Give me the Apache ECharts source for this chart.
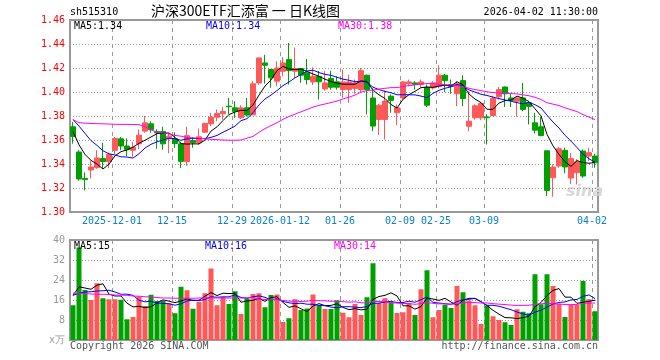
<!DOCTYPE html>
<html><head><meta charset="utf-8">
<script src="https://cdn.jsdelivr.net/npm/echarts@6/dist/echarts.min.js"></script>
<style>html,body{margin:0;padding:0;background:#fff}#c{width:660px;height:360px}</style>
</head><body><div id="c"></div>
<script>
const dates = [
'2025-11-20','2025-11-21','2025-11-24','2025-11-25','2025-11-26','2025-11-27','2025-11-28',
'2025-12-01','2025-12-02','2025-12-03','2025-12-04','2025-12-05',
'2025-12-08','2025-12-09','2025-12-10','2025-12-11','2025-12-12',
'2025-12-15','2025-12-16','2025-12-17','2025-12-18','2025-12-19',
'2025-12-22','2025-12-23','2025-12-24','2025-12-25','2025-12-26',
'2025-12-29','2025-12-30','2025-12-31',
'2026-01-05','2026-01-06','2026-01-07','2026-01-08','2026-01-09',
'2026-01-12','2026-01-13','2026-01-14','2026-01-15','2026-01-16',
'2026-01-19','2026-01-20','2026-01-21','2026-01-22','2026-01-23',
'2026-01-26','2026-01-27','2026-01-28','2026-01-29','2026-01-30',
'2026-02-02','2026-02-03','2026-02-04','2026-02-05','2026-02-06',
'2026-02-09','2026-02-10','2026-02-11','2026-02-12','2026-02-13',
'2026-02-24','2026-02-25','2026-02-26','2026-02-27',
'2026-03-02','2026-03-03','2026-03-04','2026-03-05','2026-03-06',
'2026-03-09','2026-03-10','2026-03-11','2026-03-12','2026-03-13',
'2026-03-16','2026-03-17','2026-03-18','2026-03-19','2026-03-20',
'2026-03-23','2026-03-24','2026-03-25','2026-03-26','2026-03-27',
'2026-03-30','2026-03-31','2026-04-01','2026-04-02'];

const opens = [1.371,1.350,1.328,1.335,1.337,1.3445,1.342,1.3515,1.361,1.355,
1.3515,1.3568,1.3674,1.3735,1.367,1.367,1.361,1.361,1.3568,1.342,
1.3595,1.3578,1.3665,1.3735,1.379,1.3818,1.3882,1.3868,1.3785,1.3868,
1.381,1.4076,1.4242,1.4187,1.409,1.4173,1.427,1.4173,1.4195,1.416,
1.4084,1.413,1.4026,1.4112,1.4085,1.402,1.402,1.403,1.402,1.414,
1.395,1.3771,1.3771,1.3965,1.3827,1.3951,1.4068,1.4076,1.4062,1.404,
1.4034,1.4048,1.414,1.4062,1.3985,1.4095,1.3715,1.3785,1.3785,1.3792,
1.3804,1.396,1.4042,1.395,1.3923,1.3951,1.391,1.3743,1.371,1.351,
1.3285,1.3383,1.3513,1.3283,1.3327,1.3508,1.3466,1.3466];
const closes = [1.363,1.3275,1.327,1.3375,1.345,1.342,1.348,1.3613,1.355,1.352,
1.3538,1.364,1.3743,1.3685,1.366,1.3568,1.3632,1.357,1.3422,1.3636,
1.3578,1.3627,1.3737,1.379,1.382,1.3837,1.3877,1.384,1.3868,1.3808,
1.4068,1.4284,1.4223,1.4118,1.420,1.4242,1.4178,1.4195,1.414,1.4104,
1.4131,1.4085,1.4076,1.404,1.404,1.4084,1.4084,1.4076,1.4178,1.402,
1.3716,1.389,1.3924,1.393,1.3868,1.4084,1.4084,1.4062,1.4084,1.389,
1.4076,1.414,1.4095,1.4048,1.4068,1.3946,1.3757,1.3885,1.3904,1.3786,
1.3945,1.402,1.3985,1.393,1.3951,1.3855,1.388,1.3682,1.3638,1.318,
1.3374,1.3527,1.3375,1.3445,1.3418,1.330,1.3494,1.341];
const lows = [1.357,1.326,1.318,1.328,1.336,1.336,1.3365,1.348,1.3515,1.3466,
1.346,1.3525,1.366,1.366,1.3527,1.352,1.349,1.3535,1.3367,1.3385,
1.3535,1.3563,1.3658,1.3715,1.3757,1.377,1.3812,1.3785,1.3775,1.3796,
1.3807,1.406,1.407,1.4035,1.4048,1.413,1.4062,1.4117,1.4076,1.4062,
1.4057,1.3937,1.4012,1.402,1.402,1.3951,1.391,1.3985,1.400,1.3813,
1.3674,1.3641,1.3605,1.3827,1.3724,1.3937,1.4048,1.402,1.4034,1.3874,
1.402,1.403,1.400,1.3985,1.3882,1.3882,1.3674,1.377,1.3765,1.3563,
1.380,1.3937,1.3876,1.3875,1.3793,1.384,1.373,1.3654,1.363,1.3133,
1.3127,1.3369,1.3322,1.3232,1.323,1.3285,1.3424,1.3368];
const highs = [1.375,1.3515,1.333,1.343,1.3515,1.3577,1.3495,1.3625,1.3625,1.3613,
1.3585,1.369,1.380,1.3755,1.369,1.371,1.3655,1.3665,1.3585,1.371,
1.3625,1.3696,1.3745,1.3826,1.3855,1.3876,1.395,1.3923,1.389,1.395,
1.409,1.4285,1.431,1.419,1.4256,1.429,1.4408,1.437,1.420,1.4275,
1.4206,1.4175,1.4173,1.4178,1.413,1.4187,1.4145,1.4104,1.420,1.4145,
1.403,1.3901,1.4012,1.398,1.3896,1.409,1.4104,1.409,1.4104,1.4062,
1.409,1.4223,1.415,1.4104,1.409,1.414,1.4006,1.3896,1.3915,1.3815,
1.397,1.4042,1.4045,1.3985,1.3965,1.4075,1.3915,1.3826,1.3793,1.351,
1.3397,1.3543,1.3535,1.349,1.344,1.3521,1.3535,1.3485];

const volumes = [13.9,37.0,20.0,16.0,22.7,16.7,16.3,16.3,16.1,8.3,
9.2,17.4,13.6,18.1,15.6,15.6,14.7,10.7,21.3,19.9,
12.5,15.2,18.7,28.6,13.9,17.2,14.4,19.5,10.4,16.6,
18.4,18.7,13.1,18.0,18.2,7.2,8.7,16.3,12.0,12.6,
18.2,13.6,12.4,12.4,15.9,10.9,9.1,14.4,10.0,17.1,
30.7,14.8,16.7,15.1,10.8,11.1,14.7,10.0,20.3,27.9,
9.1,12.0,14.1,12.8,21.6,19.1,15.8,13.9,6.4,13.8,
9.5,8.0,7.1,6.0,12.3,11.3,10.7,26.3,14.3,26.3,
21.6,14.4,9.2,14.1,14.1,23.6,16.3,11.5];

// moving-average values before the window is full
const ma5Head = [1.367,1.356,1.348,1.343];
const ma10Head = [1.377,1.3716,1.3655,1.3595,1.3555,1.351,1.3485,1.3475,1.346];
const ma30Head = [1.377,1.3745,1.374,1.3738,1.3736,1.3735,1.3733,1.3731,1.373,1.373,
1.3729,1.3728,1.371,1.3685,1.3665,1.366,1.365,1.3638,1.3632,1.362,
1.3618,1.3615,1.361,1.3605,1.3603,1.360,1.3598,1.3598,1.360];
const volMa5Head = [17.8,21.3,20.8,20.3];
const volMa10Head = [17.9,18.7,19.2,19.3,19.6,19.7,19.9,19.2,18.3];
const volMa30Head = [18.7,18.7,18.6,18.4,18.3,18.3,18.2,18.0,17.9,17.9,
17.6,17.5,17.3,17.2,17.0,16.8,16.8,16.7,16.7,16.7,
16.7,16.8,16.8,16.8,16.8,16.8,16.8,16.8,16.8];

const tickDates = ['2025-12-01','2025-12-15','2025-12-29','2026-01-12','2026-01-26','2026-02-09','2026-02-25','2026-03-09','2026-04-02'];
const tickLabels = ['2025-12-01','12-15','12-29','2026-01-12','01-26','02-09','02-25','03-09','04-02'];

const priceMin = 1.30, priceMax = 1.46, priceStep = 0.02;
const priceGrid = [1.32, 1.34, 1.36, 1.38, 1.40, 1.42, 1.44];
const volMin = 0, volMax = 40, volStep = 8;
const volGrid = [8, 16, 24, 32];

const legendMain = ['MA5:1.34','MA10:1.34','MA30:1.38'];
const legendVol = ['MA5:15','MA10:16','MA30:14'];

function movingAvg(src, n, head, digits) {
  return src.map(function (v, i) {
    if (i < n - 1) return head[i];
    let s = 0;
    for (let k = i - n + 1; k <= i; k++) s += src[k];
    return +(s / n).toFixed(digits);
  });
}

const RED = '#ff5858', GREEN = '#00a000';
const MONO = 'DejaVu Sans Mono';
const GRIDC = '#9a9a9a';
const tickSet = {};
tickDates.forEach(function (d, k) { tickSet[d] = tickLabels[k]; });
function isTick(idx) { return tickSet[dates[idx]] !== undefined; }

const kData = dates.map(function (d, i) { return [opens[i], closes[i], lows[i], highs[i]]; });
const volData = volumes.map(function (v, i) {
  return { value: v, itemStyle: { color: closes[i] >= opens[i] ? RED : GREEN } };
});

const chart = echarts.init(document.getElementById('c'));

function lineSeries(name, data, color, xi) {
  return { name: name, type: 'line', data: data, xAxisIndex: xi, yAxisIndex: xi,
    symbol: 'none', lineStyle: { color: color, width: 1 }, z: 5 };
}

const textEls = [
  { type: 'text', left: 70, top: 7, style: { text: 'sh515310', font: '10px "' + MONO + '"', fill: '#000' } },
  { type: 'text', left: 151, top: 4, style: { text: '沪深300ETF汇添富 一 日K线图', font: '14px "Noto Sans CJK SC"', fill: '#000' } },
  { type: 'text', right: 62, top: 7, style: { text: '2026-04-02 11:30:00', font: '10px "' + MONO + '"', fill: '#000' } },
  { type: 'text', left: 74, top: 21, z: 20, style: { text: legendMain[0], font: '10px "' + MONO + '"', fill: '#000000' } },
  { type: 'text', left: 206, top: 21, z: 20, style: { text: legendMain[1], font: '10px "' + MONO + '"', fill: '#0000ff' } },
  { type: 'text', left: 338, top: 21, z: 20, style: { text: legendMain[2], font: '10px "' + MONO + '"', fill: '#ff00ff' } },
  { type: 'text', left: 74, top: 241, z: 20, style: { text: legendVol[0], font: '10px "' + MONO + '"', fill: '#000000' } },
  { type: 'text', left: 205, top: 241, z: 20, style: { text: legendVol[1], font: '10px "' + MONO + '"', fill: '#0000ff' } },
  { type: 'text', left: 334, top: 241, z: 20, style: { text: legendVol[2], font: '10px "' + MONO + '"', fill: '#ff00ff' } },
  { type: 'text', left: 70, top: 341, style: { text: 'Copyright 2026 SINA.COM', font: '10px "' + MONO + '"', fill: '#555' } },
  { type: 'text', right: 62, top: 341, style: { text: 'http://finance.sina.com.cn', font: '10px "' + MONO + '"', fill: '#555' } },
  { type: 'text', left: 566, top: 184, style: { text: 'sina', font: 'italic bold 16px "DejaVu Sans"', fill: '#d8d8d8' } }
];

chart.setOption({
  animation: false,
  grid: [
    { left: 70, top: 20, width: 528, height: 192, show: true, borderColor: '#999', borderWidth: 2 },
    { left: 70, top: 240, width: 528, height: 100, show: true, borderColor: '#999', borderWidth: 2 }
  ],
  xAxis: [
    { type: 'category', gridIndex: 0, data: dates,
      axisLine: { show: false }, axisTick: { show: false }, splitLine: { show: false },
      axisLabel: { interval: isTick, formatter: function (v) { return tickSet[v]; },
        color: '#0a80d0', fontFamily: MONO, fontSize: 10, margin: 4, padding: [0, 6, 0, 0] } },
    { type: 'category', gridIndex: 1, data: dates,
      axisLine: { show: false }, axisTick: { show: false }, splitLine: { show: false },
      axisLabel: { show: false } }
  ],
  yAxis: [
    { type: 'value', gridIndex: 0, min: priceMin, max: priceMax, interval: priceStep,
      axisLine: { show: false }, axisTick: { show: false }, splitLine: { show: false },
      axisLabel: { color: '#ff0000', fontFamily: MONO, fontSize: 10, margin: 5,
        formatter: function (v) { return v.toFixed(2); } } },
    { type: 'value', gridIndex: 1, min: volMin, max: volMax, interval: volStep,
      axisLine: { show: false }, axisTick: { show: false }, splitLine: { show: false },
      axisLabel: { color: '#999999', fontFamily: MONO, fontSize: 10, margin: 5,
        formatter: function (v) { return v === 0 ? 'x万' : String(v); } } }
  ],
  series: [
    { name: 'K', type: 'candlestick', data: kData, xAxisIndex: 0, yAxisIndex: 0, barWidth: 5, z: 3,
      itemStyle: { color: RED, color0: GREEN, borderColor: RED, borderColor0: GREEN, borderWidth: 1 } },
    lineSeries('MA5', movingAvg(closes, 5, ma5Head, 4), '#000000', 0),
    lineSeries('MA10', movingAvg(closes, 10, ma10Head, 4), '#0000ff', 0),
    lineSeries('MA30', movingAvg(closes, 30, ma30Head, 4), '#ff00ff', 0),
    { name: 'VOL', type: 'bar', data: volData, xAxisIndex: 1, yAxisIndex: 1, barWidth: 5, z: 3 },
    lineSeries('VMA5', movingAvg(volumes, 5, volMa5Head, 2), '#000000', 1),
    lineSeries('VMA10', movingAvg(volumes, 10, volMa10Head, 2), '#0000ff', 1),
    lineSeries('VMA30', movingAvg(volumes, 30, volMa30Head, 2), '#ff00ff', 1)
  ],
  graphic: { elements: textEls }
});

// grid lines placed through the axes' own scales (convertToPixel)
const gridEls = [];
const panels = [
  { xi: 0, yi: 0, top: 20, bottom: 212, vals: priceGrid },
  { xi: 1, yi: 1, top: 240, bottom: 340, vals: volGrid }
];
panels.forEach(function (p) {
  const band = chart.convertToPixel({ xAxisIndex: p.xi }, dates[1]) - chart.convertToPixel({ xAxisIndex: p.xi }, dates[0]);
  const left = chart.convertToPixel({ xAxisIndex: p.xi }, dates[0]) - band / 2;
  const right = chart.convertToPixel({ xAxisIndex: p.xi }, dates[dates.length - 1]) + band / 2;
  tickDates.forEach(function (d) {
    const x = Math.round(chart.convertToPixel({ xAxisIndex: p.xi }, d) - band / 2) + 0.5;
    gridEls.push({ type: 'line', z: 2, silent: true,
      shape: { x1: x, y1: p.top, x2: x, y2: p.bottom },
      style: { stroke: GRIDC, lineWidth: 1, lineDash: [4, 4] } });
  });
  p.vals.forEach(function (v) {
    const y = Math.round(chart.convertToPixel({ yAxisIndex: p.yi }, v)) + 0.5;
    gridEls.push({ type: 'line', z: 2, silent: true,
      shape: { x1: left, y1: y, x2: right, y2: y },
      style: { stroke: GRIDC, lineWidth: 1, lineDash: [1, 2] } });
  });
});
chart.setOption({ graphic: { elements: textEls.concat(gridEls) } });
</script></body></html>
